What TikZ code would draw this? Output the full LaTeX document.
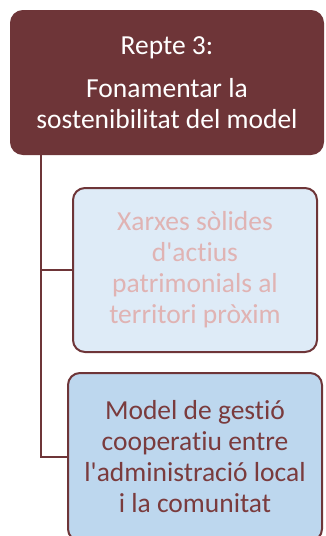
\documentclass[tikz,border=0pt]{standalone}
\usepackage{fontspec}
\setmainfont{Carlito}[Ligatures={TeXOff,NoCommon}]
\definecolor{maroon}{HTML}{6E3538}
\definecolor{lightfill}{HTML}{DEEBF7}
\definecolor{midfill}{HTML}{BDD7EE}
\definecolor{fadetext}{HTML}{E0B3B3}
\definecolor{darktext}{HTML}{7A3B3D}
\tikzset{
  box/.style={rectangle, rounded corners=12pt, draw=maroon, line width=2pt, align=center, inner sep=0pt,
    font=\fontsize{27.5}{31}\selectfont},
  link/.style={draw=maroon, line width=2.7pt}
}
\begin{document}
\begin{tikzpicture}[x=1pt,y=-1pt]
\useasboundingbox (0,0) rectangle (325,536);
\clip (0,0) rectangle (325,536);
\node[box, fill=maroon, text=white, minimum width=312pt, minimum height=143pt] (top) at (167,82.5)
  {Repte 3:\\[12pt]Fonamentar la\\sostenibilitat del model};
\node[box, fill=lightfill, text=fadetext, minimum width=244pt, minimum height=164pt] (b2) at (195,270)
  {Xarxes sòlides\\d'actius\\patrimonials al\\territori pròxim};
\node[box, fill=midfill, text=darktext, minimum width=254pt, minimum height=168pt] (b3) at (195,457)
  {Model de gestió\\cooperatiu entre\\l'administració local\\i la comunitat};
\coordinate (trunk) at ([xshift=31pt]top.south west);
\draw[link] (trunk) |- (b2.west);
\draw[link] (trunk) |- (b3.west);
\end{tikzpicture}
\end{document}
